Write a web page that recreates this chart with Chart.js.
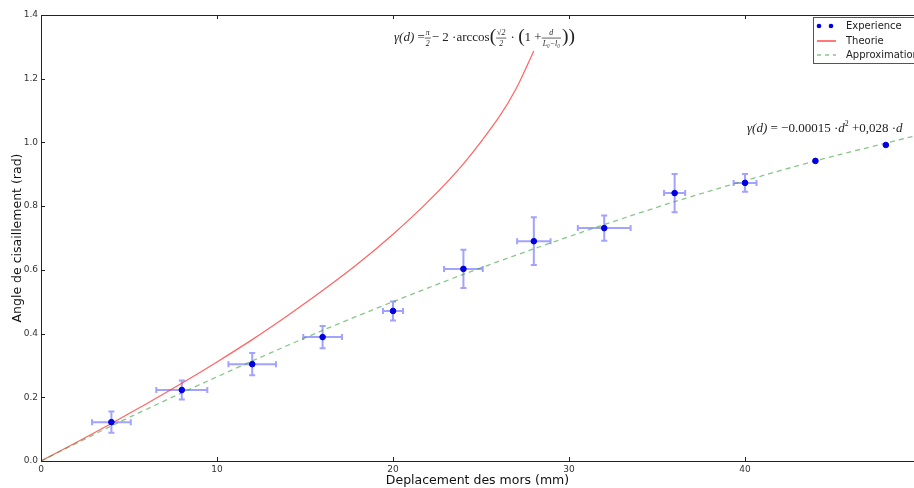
<!DOCTYPE html>
<html>
<head>
<meta charset="utf-8">
<script src="https://cdn.jsdelivr.net/npm/chart.js@4.4.1/dist/chart.umd.min.js"></script>
<style>
  html, body { margin: 0; padding: 0; background: #fff; }
  #wrap { width: 914px; height: 488px; }
</style>
</head>
<body>
<div id="wrap"><canvas id="shear"></canvas></div>
<script>
// experience points (d in mm, angle in rad) and their error bars
const expD = [4, 8, 12, 16, 20, 24, 28, 32, 36, 40, 44, 48];
const expAngle = [0.122, 0.223, 0.304, 0.389, 0.471, 0.603, 0.690, 0.731, 0.841, 0.873, 0.942, 0.992];
const expErrD = [1.1, 1.45, 1.35, 1.1, 0.57, 1.1, 0.95, 1.5, 0.6, 0.65, 0, 0];
const expErrAngle = [0.033, 0.03, 0.035, 0.035, 0.03, 0.06, 0.075, 0.04, 0.06, 0.028, 0, 0];

// theory curve
const theoD = [0, 2, 4, 6, 8, 10, 12, 14, 16, 18, 20, 22, 24, 26, 27, 28];
const theoAngle = [0, 0.058, 0.118, 0.180, 0.244, 0.311, 0.381, 0.456, 0.535, 0.619, 0.712, 0.815, 0.933, 1.078, 1.169, 1.287];

// fitted approximation
const approxD = [0, 4, 8, 12, 16, 20, 24, 28, 32, 36, 40, 44, 48, 50];
const approxAngle = [0, 0.110, 0.214, 0.314, 0.410, 0.500, 0.586, 0.666, 0.742, 0.814, 0.880, 0.942, 0.998, 1.025];

const xTicks = [0, 10, 20, 30, 40];
const yTicks = [0.0, 0.2, 0.4, 0.6, 0.8, 1.0, 1.2, 1.4];
const xMax = 49.6;

const toPts = (xs, ys) => xs.map((x, i) => ({ x: x, y: ys[i] }));

const errorBars = {
  id: "errorBars",
  beforeDatasetsDraw(chart) {
    const ctx = chart.ctx, xs = chart.scales.x, ys = chart.scales.y;
    ctx.save();
    ctx.strokeStyle = "rgba(70,70,255,0.5)";
    ctx.lineWidth = 2;
    expD.forEach((d, i) => {
      const px = xs.getPixelForValue(d), py = ys.getPixelForValue(expAngle[i]);
      if (expErrD[i] > 0) {
        const x1 = xs.getPixelForValue(d - expErrD[i]), x2 = xs.getPixelForValue(d + expErrD[i]);
        ctx.beginPath();
        ctx.moveTo(x1, py); ctx.lineTo(x2, py);
        ctx.moveTo(x1, py - 3); ctx.lineTo(x1, py + 3);
        ctx.moveTo(x2, py - 3); ctx.lineTo(x2, py + 3);
        ctx.stroke();
      }
      if (expErrAngle[i] > 0) {
        const y1 = ys.getPixelForValue(expAngle[i] - expErrAngle[i]), y2 = ys.getPixelForValue(expAngle[i] + expErrAngle[i]);
        ctx.beginPath();
        ctx.moveTo(px, y1); ctx.lineTo(px, y2);
        ctx.moveTo(px - 3, y1); ctx.lineTo(px + 3, y1);
        ctx.moveTo(px - 3, y2); ctx.lineTo(px + 3, y2);
        ctx.stroke();
      }
    });
    ctx.restore();
  }
};

// draws a sequence of text pieces and small fractions
function drawMath(ctx, x, y, parts, size) {
  const fam = "px 'Liberation Serif'";
  ctx.textBaseline = "middle";
  ctx.fillStyle = "#222";
  parts.forEach(p => {
    if (p.frac) {
      const fs = size * 0.6;
      ctx.font = "italic " + fs + fam;
      const w = Math.max(ctx.measureText(p.frac[0]).width, ctx.measureText(p.frac[1]).width) + 2;
      ctx.textAlign = "center";
      ctx.fillText(p.frac[0], x + w / 2, y - fs * 0.6);
      ctx.fillText(p.frac[1], x + w / 2, y + fs * 0.7);
      ctx.fillRect(x, y - 0.3, w, 0.7);
      ctx.textAlign = "left";
      x += w + 1;
    } else {
      const fs = size * (p.scale || 1);
      ctx.font = (p.it ? "italic " : "") + fs + fam;
      ctx.fillText(p.s, x, y + (p.dy || 0));
      x += ctx.measureText(p.s).width;
    }
  });
}

const decor = {
  id: "decor",
  afterDraw(chart) {
    const ctx = chart.ctx, a = chart.chartArea, xs = chart.scales.x, ys = chart.scales.y;
    ctx.save();
    // frame and inward ticks
    ctx.strokeStyle = "#222";
    ctx.lineWidth = 1;
    ctx.strokeRect(a.left + 0.5, a.top + 0.5, a.right - a.left, a.bottom - a.top);
    ctx.beginPath();
    xTicks.forEach(t => {
      const px = Math.round(xs.getPixelForValue(t)) + 0.5;
      ctx.moveTo(px, a.bottom); ctx.lineTo(px, a.bottom - 4);
      ctx.moveTo(px, a.top); ctx.lineTo(px, a.top + 4);
    });
    yTicks.forEach(t => {
      const py = Math.round(ys.getPixelForValue(t)) + 0.5;
      ctx.moveTo(a.left, py); ctx.lineTo(a.left + 4, py);
    });
    ctx.stroke();

    // legend box
    ctx.fillStyle = "#fff";
    ctx.fillRect(813, 17, 110, 46);
    ctx.strokeStyle = "#555";
    ctx.strokeRect(813.5, 17.5, 110, 46);
    ctx.fillStyle = "#0000e0";
    [819, 831].forEach(cx => { ctx.beginPath(); ctx.arc(cx, 26, 2.3, 0, Math.PI * 2); ctx.fill(); });
    ctx.lineWidth = 1.3;
    ctx.strokeStyle = "#ff3030";
    ctx.beginPath(); ctx.moveTo(817, 41); ctx.lineTo(836, 41); ctx.stroke();
    ctx.strokeStyle = "rgba(60,160,60,0.6)";
    ctx.setLineDash([4, 4]);
    ctx.beginPath(); ctx.moveTo(817, 55); ctx.lineTo(836, 55); ctx.stroke();
    ctx.setLineDash([]);
    ctx.fillStyle = "#222";
    ctx.font = "10px 'DejaVu Sans'";
    ctx.textAlign = "left";
    ctx.textBaseline = "middle";
    ctx.fillText("Experience", 846, 26);
    ctx.fillText("Theorie", 846, 41);
    ctx.fillText("Approximation", 846, 55);

    // formulas
    drawMath(ctx, 394, 38, [
      { s: "γ(d)", it: true }, { s: " =" }, { frac: ["π", "2"] }, { s: "− 2 ·arccos" },
      { s: "(", scale: 1.5, dy: -1 }, { frac: ["√2", "2"] }, { s: " · " }, { s: "(", scale: 1.5, dy: -1 }, { s: "1 +" },
      { frac: ["d", "L₀−l₀"] }, { s: "))", scale: 1.5, dy: -1 }
    ], 13);
    drawMath(ctx, 747, 129, [
      { s: "γ(d)", it: true }, { s: " = −0.00015 ·" }, { s: "d", it: true }, { s: "2", scale: 0.6, dy: -5 },
      { s: " +0,028 ·" }, { s: "d", it: true }
    ], 13);
    ctx.restore();
  }
};

new Chart("shear", {
  type: "scatter",
  data: {
    datasets: [
      {
        label: "Experience",
        data: toPts(expD, expAngle),
        backgroundColor: "#0000e0",
        borderColor: "#0000e0",
        pointRadius: 2.8,
        order: 0,
      },
      {
        label: "Theorie",
        type: "line",
        data: toPts(theoD, theoAngle),
        borderColor: "rgba(255,60,60,0.8)",
        borderWidth: 1.2,
        pointRadius: 0,
        tension: 0.3,
        order: 2,
      },
      {
        label: "Approximation",
        type: "line",
        data: toPts(approxD, approxAngle),
        borderColor: "rgba(60,160,60,0.6)",
        borderWidth: 1.3,
        borderDash: [5, 4],
        pointRadius: 0,
        tension: 0.3,
        order: 1,
      },
    ],
  },
  options: {
    responsive: true,
    maintainAspectRatio: false,
    animation: false,
    layout: { autoPadding: false, padding: { top: 15, right: 0, left: 0, bottom: 0 } },
    plugins: { legend: { display: false }, tooltip: { enabled: false } },
    scales: {
      x: {
        type: "linear",
        min: 0,
        max: xMax,
        afterBuildTicks: s => { s.ticks = xTicks.map(v => ({ value: v })); },
        afterFit: s => { s.height = 27; },
        grid: { display: false, drawTicks: false },
        border: { display: false },
        ticks: { color: "#333", font: { family: "DejaVu Sans", size: 9 }, padding: 3, maxRotation: 0 },
        title: { display: true, text: "Deplacement des mors (mm)", color: "#111", font: { family: "DejaVu Sans", size: 12.5 }, padding: { top: 0, bottom: 0 } },
      },
      y: {
        min: 0,
        max: 1.4,
        afterBuildTicks: s => { s.ticks = yTicks.map(v => ({ value: v })); },
        afterFit: s => { s.width = 41; },
        grid: { display: false, drawTicks: false },
        border: { display: false },
        ticks: { color: "#333", font: { family: "DejaVu Sans", size: 9 }, padding: 3, callback: v => v.toFixed(1) },
        title: { display: true, text: "Angle de cisaillement (rad)", color: "#111", font: { family: "DejaVu Sans", size: 12.5 }, padding: { top: 10, bottom: 2 } },
      },
    },
  },
  plugins: [errorBars, decor],
});
</script>
</body>
</html>
